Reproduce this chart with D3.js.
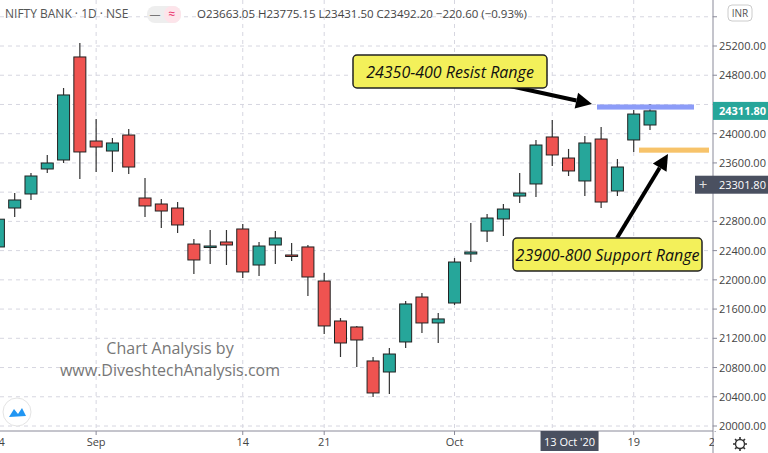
<!DOCTYPE html>
<html><head><meta charset="utf-8">
<script src="https://cdn.jsdelivr.net/npm/d3@7"></script>
<style>body{margin:0;background:#fff}svg{display:block}text{font-family:"Open Sans",sans-serif}</style>
</head><body><svg id="c" width="768" height="453"></svg>
<script>
const dates=["24","25","26","27","28","31","Sep","2","3","4","7","8","9","10","11","14","15","16","17","18","21","22","23","24","25","28","29","30","Oct","5","6","7","8","9","12","13 Oct '20","14","15","16","19","20"];
const opens =[22450,22983,23175,23517,23640,25050,23900,23763,23982,23120,23038,22983,22490,22463,22518,22696,22203,22477,22340,22450,21984,21437,21355,20890,20739,21150,21765,21410,21683,22354,22668,22833,23147,23312,23955,23667,23353,23927,23216,23914,24119];
const highs =[22900,23188,23462,23709,24625,25241,24201,23941,24064,23394,23106,23065,22559,22682,22682,22764,22518,22668,22504,22477,22094,21478,21369,20944,21067,21711,21820,21547,22299,22778,22901,23038,23462,23914,24187,23791,23968,24092,23653,24324,24406];
const lows  =[22300,22860,23093,23462,23599,23380,23476,23476,23449,22860,22710,22641,22080,22217,22203,22026,22053,22217,22258,21779,21259,20944,20808,20397,20438,21067,21273,21136,21656,22244,22518,22600,23052,23134,23558,23421,23147,22983,23147,23750,24051];
const closes=[22830,23093,23421,23599,24530,23750,23818,23873,23544,23011,22942,22751,22272,22463,22477,22108,22463,22573,22326,22039,21369,21136,21177,20452,20985,21670,21410,21465,22244,22381,22846,22969,23188,23845,23709,23490,23873,23065,23544,24269,24311.8];
const priceTicks=[20000,20400,20800,21200,21600,22000,22400,22800,23200,23600,24000,24400,24800,25200,25600];
const hiddenTickLabels=[23200,24400,25600];
const xLabels=[[0,"24"],[6,"Sep"],[15,"14"],[20,"21"],[28,"Oct"],[35,"13 Oct '20"],[39,"19"],[44,"26"]];
const gridIdx=[0,6,15,20,28,34,39];

const svg=d3.select("#c");
const x=d3.scaleLinear().domain([0,40]).range([-1.6,650]);
const y=d3.scaleLinear().domain([20000,25200]).range([426,46]);
const AX=713, AY=431;
const g=svg.append("g");
g.selectAll(".hg").data(priceTicks).join("line").attr("x1",0).attr("x2",AX).attr("y1",d=>y(d)).attr("y2",d=>y(d))
 .attr("stroke","#d6d6e0").attr("stroke-dasharray","4,4");
g.selectAll(".vg").data(gridIdx).join("line").attr("x1",d=>x(d)).attr("x2",d=>x(d)).attr("y1",0).attr("y2",AY)
 .attr("stroke","#d6d6e0").attr("stroke-dasharray","4,4");
g.append("text").attr("x",170).attr("y",354).attr("text-anchor","middle").attr("fill","#777").attr("font-size",16).text("Chart Analysis by");
g.append("text").attr("x",170).attr("y",376).attr("text-anchor","middle").attr("fill","#777").attr("font-size",16).text("www.DiveshtechAnalysis.com");
const data=opens.map((o,i)=>({i,o,h:highs[i],l:lows[i],c:closes[i]}));
const cg=g.selectAll(".cd").data(data).join("g");
cg.append("line").attr("x1",d=>x(d.i)).attr("x2",d=>x(d.i)).attr("y1",d=>y(d.h)).attr("y2",d=>y(d.l)).attr("stroke","#333").attr("stroke-width",1.2);
cg.append("rect").attr("x",d=>x(d.i)-6).attr("width",12)
 .attr("y",d=>y(Math.max(d.o,d.c))).attr("height",d=>Math.max(1.5,Math.abs(y(d.o)-y(d.c))))
 .attr("fill",d=>d.c>=d.o?"#26a69a":"#ef5350").attr("stroke","#222").attr("stroke-width",1);
g.append("rect").attr("x",597).attr("y",y(24400)).attr("width",97).attr("height",y(24330)-y(24400)).attr("fill","#8c9cf8");
g.append("rect").attr("x",639).attr("y",y(23810)).attr("width",70).attr("height",y(23740)-y(23810)).attr("fill","#f7c36a");
function arrow(x1,y1,x2,y2){
  const a=Math.atan2(y2-y1,x2-x1),L=16,W=8;
  const bx=x2-L*Math.cos(a),by=y2-L*Math.sin(a);
  g.append("line").attr("x1",x1).attr("y1",y1).attr("x2",bx).attr("y2",by).attr("stroke","#000").attr("stroke-width",4);
  g.append("path").attr("d",`M${x2},${y2}L${bx+W*Math.sin(a)},${by-W*Math.cos(a)}L${bx-W*Math.sin(a)},${by+W*Math.cos(a)}Z`).attr("fill","#000");
}
arrow(510,86,592,104);
arrow(617,238,668,154);
function box(x0,y0,w,h,t){
  g.append("rect").attr("x",x0).attr("y",y0).attr("width",w).attr("height",h).attr("rx",4).attr("fill","#f3f05a").attr("stroke","#222").attr("stroke-width",1.5);
  g.append("text").attr("x",x0+w/2).attr("y",y0+h/2+6).attr("text-anchor","middle").attr("font-style","italic").attr("font-size",16).attr("fill","#111").text(t);
}
box(353,55,194,33,"24350-400 Resist Range");
box(513,238,189,33,"23900-800 Support Range");
svg.append("line").attr("x1",AX).attr("x2",AX).attr("y1",0).attr("y2",453).attr("stroke","#8a8a99");
svg.append("line").attr("x1",0).attr("x2",AX).attr("y1",AY).attr("y2",AY).attr("stroke","#8a8a99");
const ya=svg.append("g");
ya.selectAll("text").data(priceTicks.filter(d=>!hiddenTickLabels.includes(d))).join("text").attr("x",719).attr("y",d=>y(d)+4).attr("font-size",11).attr("fill","#444")
 .text(d=>d.toFixed(2));
ya.selectAll("line").data(priceTicks).join("line").attr("x1",AX).attr("x2",AX+4).attr("y1",d=>y(d)).attr("y2",d=>y(d)).attr("stroke","#8a8a99");
svg.append("rect").attr("x",AX).attr("y",y(24311.8)-9).attr("width",55).attr("height",18).attr("fill","#26a69a");
svg.append("text").attr("x",719).attr("y",y(24311.8)+4).attr("font-size",11).attr("font-weight","bold").attr("fill","#fff").text("24311.80");
svg.append("rect").attr("x",695).attr("y",y(23301.8)-9).attr("width",73).attr("height",18).attr("fill","#4a5060");
svg.append("text").attr("x",719).attr("y",y(23301.8)+4).attr("font-size",11).attr("fill","#fff").text("23301.80");
svg.append("text").attr("x",703).attr("y",y(23301.8)+5).attr("text-anchor","middle").attr("font-size",15).attr("fill","#ddd").text("+");
svg.append("rect").attr("x",728).attr("y",5).attr("width",24).attr("height",16).attr("rx",4).attr("fill","#fff").attr("stroke","#ccc");
svg.append("text").attr("x",740).attr("y",17).attr("text-anchor","middle").attr("font-size",10).attr("fill","#555").text("INR");
const xa=svg.append("g");
xLabels.forEach(([i,t])=>{
  const xx=x(i);
  if(t.includes("Oct '")){
    xa.append("rect").attr("x",xx-28).attr("y",AY).attr("width",58).attr("height",20).attr("fill","#4a5060");
    xa.append("text").attr("x",xx+1).attr("y",AY+15).attr("text-anchor","middle").attr("font-size",11).attr("fill","#fff").text(t);
  } else {
    xa.append("line").attr("x1",xx).attr("x2",xx).attr("y1",AY).attr("y2",AY+4).attr("stroke","#8a8a99");
    xa.append("text").attr("x",xx).attr("y",AY+15).attr("text-anchor","middle").attr("font-size",11).attr("fill","#444").text(t);
  }
});
svg.append("rect").attr("x",AX+1).attr("y",AY+1).attr("width",55).attr("height",22).attr("fill","#fff");
svg.append("rect").attr("x",0).attr("y",AY+1).attr("width",1).attr("height",1).attr("fill","#fff");
// gear icon
const gear=svg.append("g").attr("transform","translate(740,444)");
gear.append("circle").attr("r",4.5).attr("fill","none").attr("stroke","#333").attr("stroke-width",1.4);
[0,45,90,135].forEach(a=>gear.append("line").attr("x1",-7).attr("x2",7).attr("transform",`rotate(${a})`).attr("stroke","#333").attr("stroke-width",1.6).attr("stroke-dasharray","2.5,9"));
svg.append("text").attr("x",5).attr("y",18).attr("font-size",12).attr("fill","#555").text("NIFTY BANK · 1D · NSE");
svg.append("rect").attr("x",147).attr("y",6).attr("width",34).attr("height",17).attr("rx",8).attr("fill","#eee");
svg.append("rect").attr("x",164).attr("y",6).attr("width",17).attr("height",17).attr("rx",8).attr("fill","#fde4ea");
svg.append("text").attr("x",155).attr("y",18).attr("font-size",11).attr("fill","#777").attr("text-anchor","middle").text("—");
svg.append("text").attr("x",172).attr("y",18).attr("font-size",12).attr("fill","#e91e63").attr("text-anchor","middle").text("≈");
svg.append("text").attr("x",197).attr("y",18).attr("font-size",11.5).attr("fill","#444")
 .text("O23663.05  H23775.15  L23431.50  C23492.20  −220.60 (−0.93%)");
svg.append("circle").attr("cx",17).attr("cy",412).attr("r",14).attr("fill","#fff").attr("stroke","#e4e4e4");
svg.append("path").attr("d","M9,417 L14,409 L18,414 L22,408 L26,416 Z").attr("fill","#2196f3");
</script></body></html>
